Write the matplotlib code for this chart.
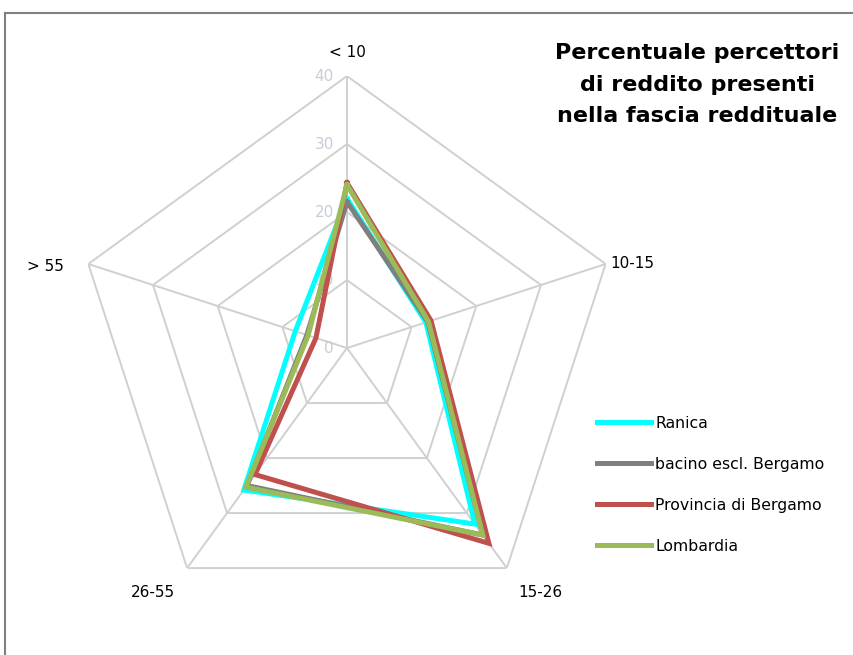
import numpy as np
import matplotlib
matplotlib.use("Agg")
import matplotlib.pyplot as plt
from matplotlib.lines import Line2D
from matplotlib.transforms import ScaledTranslation

plt.rcParams['font.family'] = ['DejaVu Sans']

# Income bands and share of taxpayers (%) in each band
categories = ["< 10", "10-15", "15-26", "26-55", "> 55"]
ranica = [22.0, 12.2, 32.0, 25.8, 8.0]
bacino = [21.5, 12.5, 34.0, 25.0, 6.2]
provincia = [24.3, 13.0, 35.5, 23.0, 4.8]
lombardia = [24.0, 12.6, 34.0, 25.3, 6.0]

series_names = ["Ranica", "bacino escl. Bergamo", "Provincia di Bergamo", "Lombardia"]
series_colors = ["#00ffff", "#7f7f7f", "#c0504d", "#9bbb59"]
rings = [0, 10, 20, 30, 40]

fig = plt.figure(figsize=(8.54, 6.55), dpi=100)
ax = fig.add_axes([0.0878, 0.0534, 0.637, 0.8305], projection='polar')
ax.set_theta_offset(np.pi / 2)
ax.set_theta_direction(-1)
ax.set_ylim(0, 40)
ax.set_xticks([])
ax.set_yticks([])
ax.grid(False)
ax.spines['polar'].set_visible(False)
ax.patch.set_alpha(0)

n = len(categories)
theta = np.linspace(0, 2 * np.pi, n, endpoint=False)
closed = np.append(theta, theta[0])

# pentagon grid and spokes
grid_c = "#d0d0d0"
for r in rings[1:]:
    ax.plot(closed, [r] * (n + 1), color=grid_c, lw=1.4, zorder=1)
for t in theta:
    ax.plot([t, t], [0, 40], color=grid_c, lw=1.4, zorder=1)

# radial value labels along the top spoke
shift = ax.transData + ScaledTranslation(-0.13, 0, fig.dpi_scale_trans)
for r in rings:
    ax.text(0, r, str(r), transform=shift, ha='right', va='center',
            fontsize=11, color="#c8ccd6", zorder=2)

# series
data = [ranica, bacino, provincia, lombardia]
for vals, name, col in zip(data, series_names, series_colors):
    v = np.append(vals, vals[0])
    ax.plot(closed, v, color=col, lw=3.6, label=name, zorder=3,
            solid_joinstyle='miter')

# category labels around the pentagon
offsets = [(0, 24, 'center'), (5, 0, 'left'), (34, -24, 'center'),
           (-34, -24, 'center'), (-24, -3, 'right')]
for t, lab, (dx, dy, ha) in zip(theta, categories, offsets):
    ax.annotate(lab, xy=(t, 40), xytext=(dx, dy), textcoords='offset pixels',
                ha=ha, va='center', fontsize=11, color="#000000",
                annotation_clip=False)

fig.text(0.8167, 1 - 43 / 655,
         "Percentuale percettori\ndi reddito presenti\nnella fascia reddituale",
         ha='center', va='top', fontsize=16, fontweight='bold',
         linespacing=1.73, color="#000000")

handles = [Line2D([], [], color=c, lw=3.6) for c in series_colors]
fig.legend(handles, series_names, loc='upper left',
           bbox_to_anchor=(0.692, 0.375), frameon=False, fontsize=11.3,
           handlelength=3.4, handletextpad=0.3, labelspacing=1.66,
           borderaxespad=0)

# outer frame (top and left edges)
frame_c = "#808080"
fig.add_artist(Line2D([5 / 854, 1], [1 - 13 / 655, 1 - 13 / 655],
                      transform=fig.transFigure, color=frame_c, lw=1.5))
fig.add_artist(Line2D([5 / 854, 5 / 854], [0, 1 - 13 / 655],
                      transform=fig.transFigure, color=frame_c, lw=1.5))

fig.savefig("out.png", dpi=100)
